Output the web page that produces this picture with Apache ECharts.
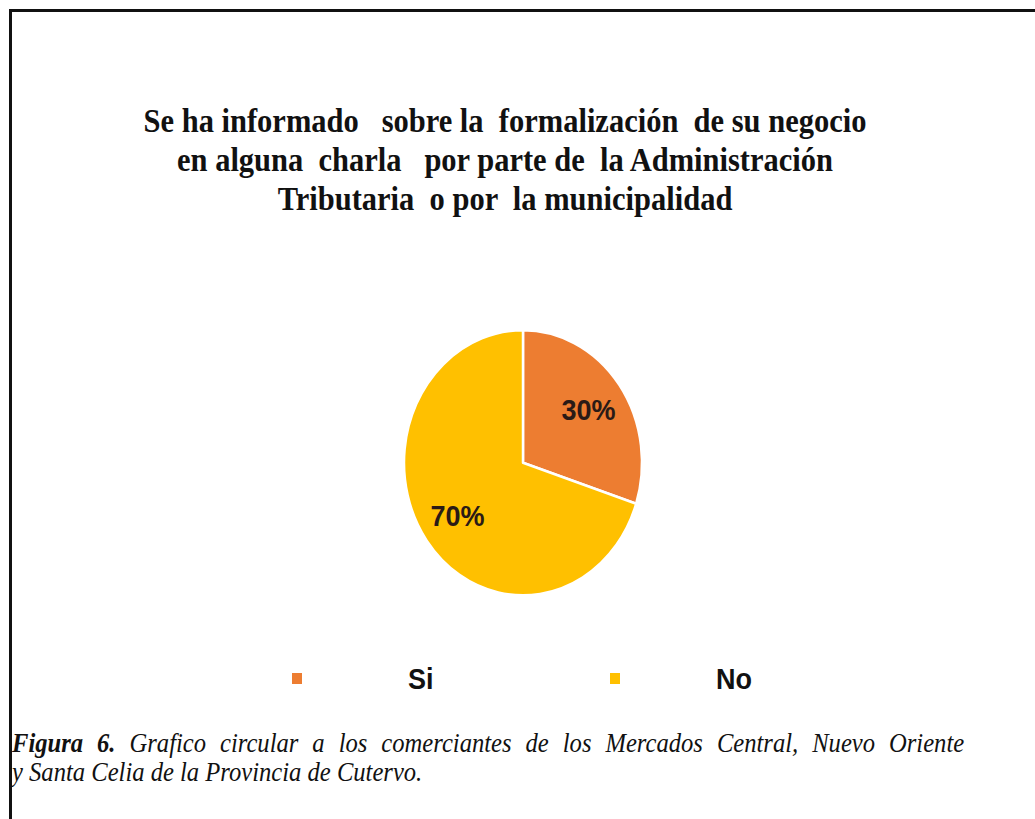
<!DOCTYPE html>
<html>
<head>
<meta charset="utf-8">
<script src="https://cdn.jsdelivr.net/npm/echarts@6/dist/echarts.min.js"></script>
<style>
  html, body { margin: 0; padding: 0; background: #fff; width: 1035px; height: 819px; overflow: hidden; }
  /* the figure is drawn at a compressed height and stretched back vertically */
  #chart { width: 1035px; height: 735px; transform: scaleY(1.115); transform-origin: 0 0; }
</style>
</head>
<body>
<div id="chart"></div>
<script>
// Chart content
const titleLines = [
  'Se ha informado   sobre la  formalización  de su negocio',
  'en alguna  charla   por parte de  la Administración',
  'Tributaria  o por  la municipalidad'
];
const categories = ['Si', 'No'];
const percentages = [30, 70];
const sliceColors = ['#ED7D31', '#FFC000'];
const captionLead = 'Figura 6.';
const captionLine1 = 'Grafico circular a los comerciantes de los Mercados Central, Nuevo Oriente';
const captionLine2 = 'y Santa Celia de la Provincia de Cutervo.';

const SERIF = '"Liberation Serif", "Times New Roman", serif';
const SANS = '"Liberation Sans", Arial, sans-serif';

const pieData = categories.map((name, i) => ({
  name: name,
  value: percentages[i],
  itemStyle: { color: sliceColors[i] }
}));

const chart = echarts.init(document.getElementById('chart'), null, { renderer: 'svg' });

const legendBase = {
  orient: 'horizontal',
  icon: 'rect',
  itemWidth: 12,
  itemHeight: 12,
  top: 595,
  padding: 0,
  selectedMode: false,
  textStyle: {
    fontFamily: SANS,
    fontWeight: 'bold',
    fontSize: 27,
    color: '#111'
  }
};

// caption: first line is justified, so its word gaps are widened
const captionFont = 24.6;
const captionLineHeight = 25.4;
const justifiedGap = '{g| }';
const captionText =
  captionLead.split(' ').map(w => '{b|' + w + '}').join(justifiedGap) + justifiedGap +
  captionLine1.split(' ').map(w => '{i|' + w + '}').join(justifiedGap) +
  '\n{i|' + captionLine2 + '}';

chart.setOption({
  backgroundColor: '#ffffff',
  animation: false,
  title: {
    text: titleLines.join('\n'),
    left: 500,
    textAlign: 'center',
    top: 85,
    textStyle: {
      fontFamily: SERIF,
      fontWeight: 'bold',
      fontSize: 30.5,
      lineHeight: 35.3,
      color: '#111'
    }
  },
  legend: [
    Object.assign({}, legendBase, {
      data: ['Si'],
      left: 290,
      textStyle: Object.assign({}, legendBase.textStyle, { padding: [0, 0, 0, 100] })
    }),
    Object.assign({}, legendBase, {
      data: ['No'],
      left: 608,
      textStyle: Object.assign({}, legendBase.textStyle, { padding: [0, 0, 0, 90] })
    })
  ],
  series: [
    {
      type: 'pie',
      center: [523, 415],
      radius: [0, 119],
      startAngle: 90,
      clockwise: true,
      silent: true,
      itemStyle: { borderColor: '#ffffff', borderWidth: 2.5 },
      label: { show: false },
      labelLine: { show: false },
      data: pieData
    },
    {
      // label ring: places the percentage text further out than the slice midpoint
      type: 'pie',
      center: [523, 415],
      radius: [37, 119],
      startAngle: 90,
      clockwise: true,
      silent: true,
      itemStyle: { color: 'rgba(0,0,0,0)' },
      label: {
        show: true,
        position: 'inside',
        formatter: '{c}%',
        fontFamily: SANS,
        fontWeight: 'bold',
        fontSize: 27,
        color: '#2a1a16'
      },
      labelLine: { show: false },
      data: categories.map((name, i) => ({ name: name, value: percentages[i] }))
    }
  ],
  graphic: [
    {
      type: 'rect',
      shape: { x: 9, y: 8, width: 1040, height: 2.7 },
      style: { fill: '#111' }
    },
    {
      type: 'rect',
      shape: { x: 9, y: 8, width: 3, height: 740 },
      style: { fill: '#111' }
    },
    {
      type: 'text',
      x: 12,
      y: 654,
      style: {
        text: captionText,
        verticalAlign: 'top',
        rich: {
          b: { fontFamily: SERIF, fontStyle: 'italic', fontWeight: 'bold', fontSize: captionFont, lineHeight: captionLineHeight, fill: '#111' },
          i: { fontFamily: SERIF, fontStyle: 'italic', fontSize: captionFont, lineHeight: captionLineHeight, fill: '#111' },
          g: { fontFamily: SERIF, fontSize: captionFont, lineHeight: captionLineHeight, width: 14 }
        }
      }
    }
  ]
});
</script>
</body>
</html>
